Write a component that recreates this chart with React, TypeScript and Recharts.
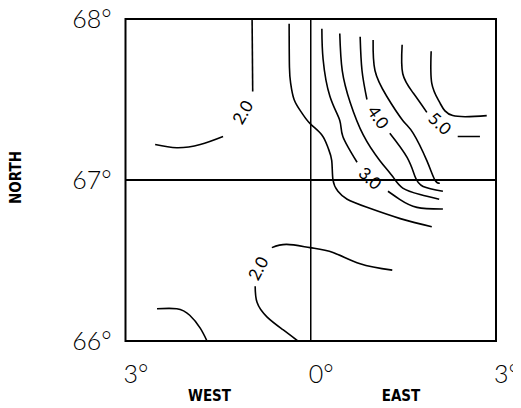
import React from 'react';
import { ComposedChart, Line, Scatter, XAxis, YAxis, ReferenceLine, ReferenceArea } from 'recharts';

// tick values (degrees)
const xTicks = [-3, 0, 3];
const yTicks = [66, 67, 68];

// contour polylines (x = degrees east, negative = west; y = degrees north)
const contour2UpperA = [
  { x: -0.95, y: 68.0 }, { x: -0.94, y: 67.55 },
];
const contour2UpperB = [
  { x: -1.42, y: 67.27 }, { x: -1.79, y: 67.22 }, { x: -2.17, y: 67.2 }, { x: -2.52, y: 67.22 },
];
const contourB = [
  { x: -0.35, y: 67.97 }, { x: -0.345, y: 67.7 }, { x: -0.325, y: 67.6 }, { x: -0.27, y: 67.5 },
  { x: -0.15, y: 67.42 }, { x: -0.01, y: 67.35 }, { x: 0.18, y: 67.28 }, { x: 0.28, y: 67.2 },
  { x: 0.34, y: 67.12 }, { x: 0.36, y: 67.0 }, { x: 0.44, y: 66.93 }, { x: 0.59, y: 66.88 },
  { x: 0.91, y: 66.83 }, { x: 1.45, y: 66.76 }, { x: 1.96, y: 66.71 },
];
const contour3A = [
  { x: 0.18, y: 67.94 }, { x: 0.2, y: 67.75 }, { x: 0.31, y: 67.52 }, { x: 0.47, y: 67.37 },
  { x: 0.52, y: 67.27 }, { x: 0.75, y: 67.11 },
];
const contour3B = [
  { x: 1.25, y: 66.93 }, { x: 1.44, y: 66.88 }, { x: 1.72, y: 66.83 }, { x: 2.14, y: 66.82 },
];
const contourD = [
  { x: 0.47, y: 67.91 }, { x: 0.51, y: 67.68 }, { x: 0.64, y: 67.48 }, { x: 0.85, y: 67.28 },
  { x: 1.12, y: 67.12 }, { x: 1.33, y: 67.02 }, { x: 1.49, y: 66.95 }, { x: 1.77, y: 66.91 },
  { x: 2.08, y: 66.88 },
];
const contour4A = [
  { x: 0.8, y: 67.89 }, { x: 0.83, y: 67.68 }, { x: 0.91, y: 67.5 },
];
const contour4B = [
  { x: 1.28, y: 67.29 }, { x: 1.56, y: 67.14 }, { x: 1.69, y: 67.02 }, { x: 1.82, y: 66.96 },
  { x: 2.14, y: 66.93 },
];
const contourF = [
  { x: 1.01, y: 67.87 }, { x: 1.04, y: 67.68 }, { x: 1.23, y: 67.52 }, { x: 1.49, y: 67.37 },
  { x: 1.66, y: 67.29 }, { x: 1.88, y: 67.12 }, { x: 2.01, y: 67.0 }, { x: 2.09, y: 66.98 },
];
const contour5A = [
  { x: 1.48, y: 67.84 }, { x: 1.49, y: 67.66 }, { x: 1.66, y: 67.54 }, { x: 1.88, y: 67.42 },
];
const contour5B = [
  { x: 2.38, y: 67.27 }, { x: 2.74, y: 67.27 },
];
const contourH = [
  { x: 1.95, y: 67.8 }, { x: 1.96, y: 67.6 }, { x: 2.09, y: 67.48 }, { x: 2.3, y: 67.4 },
  { x: 2.85, y: 67.4 },
];
const contour2LowerA = [
  { x: -0.63, y: 66.58 }, { x: -0.39, y: 66.6 }, { x: -0.01, y: 66.58 }, { x: 0.36, y: 66.55 },
  { x: 0.8, y: 66.48 }, { x: 1.32, y: 66.44 },
];
const contour2LowerB = [
  { x: -0.9, y: 66.34 }, { x: -0.87, y: 66.24 }, { x: -0.71, y: 66.15 }, { x: -0.45, y: 66.07 },
  { x: -0.21, y: 66.0 },
];
const contourLowerLeft = [
  { x: -2.49, y: 66.2 }, { x: -2.17, y: 66.2 }, { x: -1.96, y: 66.16 }, { x: -1.79, y: 66.08 },
  { x: -1.68, y: 66.0 },
];

const contours = [
  contour2UpperA, contour2UpperB, contourB, contour3A, contour3B, contourD, contour4A, contour4B,
  contourF, contour5A, contour5B, contourH, contour2LowerA, contour2LowerB, contourLowerLeft,
];

// contour labels
const labelPoints = [
  { x: -1.1, y: 67.42, text: '2.0', angle: -60 },
  { x: 0.96, y: 67.01, text: '3.0', angle: 42 },
  { x: 1.09, y: 67.39, text: '4.0', angle: 55 },
  { x: 2.09, y: 67.35, text: '5.0', angle: 42 },
  { x: -0.85, y: 66.45, text: '2.0', angle: -62 },
];

const FONT = "Lato, 'DejaVu Sans', sans-serif";
const AXIS_FONT = "'DejaVu Sans Condensed', 'DejaVu Sans', sans-serif";

const XTick = (props: any) => {
  const { x, y, payload } = props;
  return (
    <text x={x - 2} y={y + 40} textAnchor="start" fontFamily={FONT} fontWeight={300} fontSize={25} fill="#000">
      {`${Math.abs(payload.value)}°`}
    </text>
  );
};

const YTick = (props: any) => {
  const { x, y, payload } = props;
  return (
    <text x={x} y={y} dy="0.36em" textAnchor="end" fontFamily={FONT} fontWeight={300} fontSize={25} fill="#000">
      {`${payload.value}°`}
    </text>
  );
};

const LabelShape = (props: any) => {
  const { cx, cy, payload } = props;
  return (
    <text
      x={cx}
      y={cy}
      dy="0.35em"
      textAnchor="middle"
      fontFamily={FONT}
      fontSize={17}
      fill="#000"
      transform={`rotate(${payload.angle} ${cx} ${cy})`}
    >
      {payload.text}
    </text>
  );
};

const sideLabel: React.CSSProperties = {
  position: 'absolute',
  textAlign: 'center',
  fontFamily: AXIS_FONT,
  fontWeight: 600,
  fontSize: 15,
  lineHeight: '15px',
};

export default function App() {
  return (
    <div style={{ position: 'relative', width: 521, height: 408, marginTop: -8 }}>
      <ComposedChart width={521} height={408} margin={{ top: 19, right: 33, bottom: 0, left: 0 }}>
        <XAxis
          type="number"
          dataKey="x"
          domain={[-3, 3]}
          ticks={xTicks}
          tick={<XTick />}
          axisLine={false}
          tickLine={false}
          tickSize={0}
          height={67}
          allowDataOverflow
        />
        <YAxis
          type="number"
          dataKey="y"
          domain={[66, 68]}
          ticks={yTicks}
          tick={<YTick />}
          axisLine={false}
          tickLine={false}
          tickSize={0}
          tickMargin={14}
          width={117.5}
          allowDataOverflow
        />
        <ReferenceArea x1={-3} x2={3} y1={66} y2={68} fill="none" fillOpacity={0} stroke="#000" strokeWidth={2} ifOverflow="visible" />
        <ReferenceLine x={0} stroke="#000" strokeWidth={1.5} />
        <ReferenceLine y={67} stroke="#000" strokeWidth={2} />
        {contours.map((c, i) => (
          <Line
            key={i}
            data={c}
            dataKey="y"
            type="natural"
            stroke="#000"
            strokeWidth={1.6}
            dot={false}
            activeDot={false}
            isAnimationActive={false}
          />
        ))}
        <Scatter data={labelPoints} dataKey="y" shape={<LabelShape />} isAnimationActive={false} />
      </ComposedChart>
      <div style={{ ...sideLabel, left: 180, top: 389, width: 40 }}>WEST</div>
      <div style={{ ...sideLabel, left: 373, top: 389, width: 40 }}>EAST</div>
      <div style={{ ...sideLabel, left: -22, top: 170, width: 60, transform: 'rotate(-90deg)' }}>NORTH</div>
    </div>
  );
}
